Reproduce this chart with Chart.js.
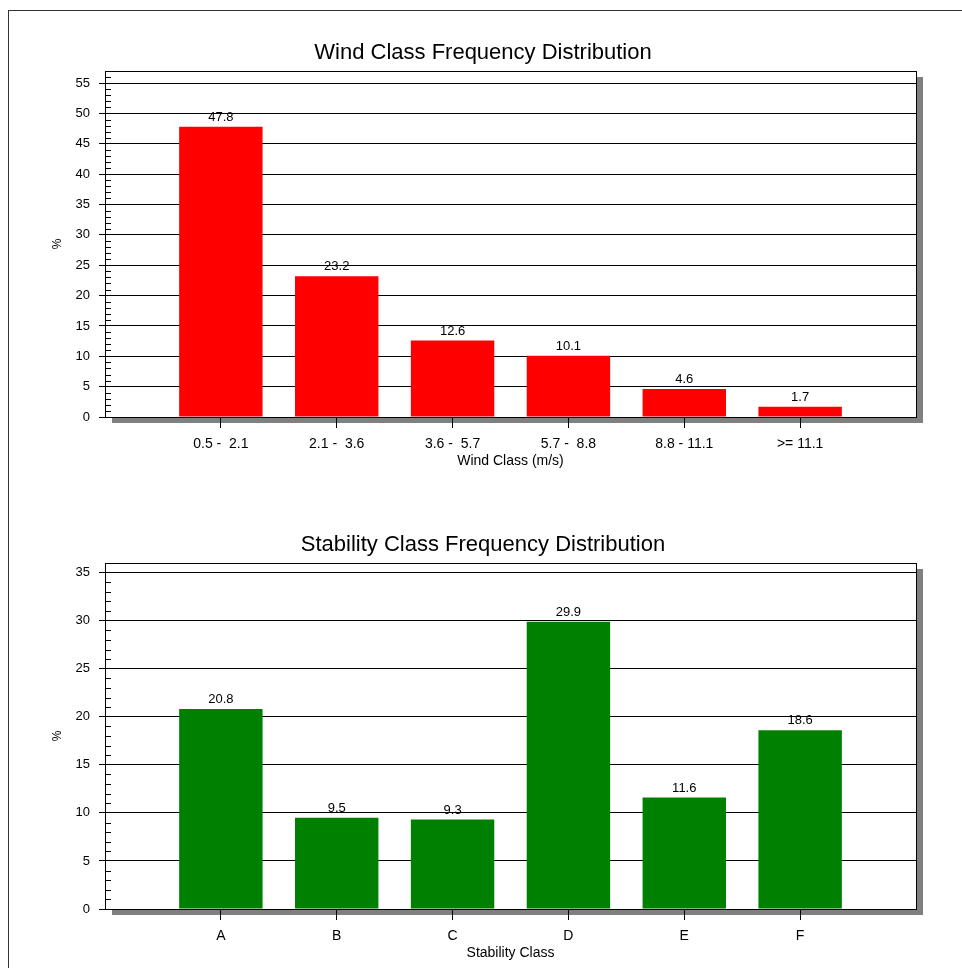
<!DOCTYPE html>
<html>
<head>
<meta charset="utf-8">
<script src="https://cdn.jsdelivr.net/npm/chart.js@4.4.1/dist/chart.umd.min.js"></script>
<style>
  body { margin: 0; background: #fff; }
  #frame { position: absolute; left: 8px; top: 10px; width: 960px; height: 964px;
           border-top: 1px solid #333; border-left: 1px solid #333; }
  canvas { position: absolute; left: 0; }
  #wind { top: 0; }
  #stab { top: 492px; }
</style>
</head>
<body>
<div id="frame"></div>
<canvas id="wind" width="962" height="476"></canvas>
<canvas id="stab" width="962" height="476"></canvas>
<script>
// Wind class chart
const windClasses = ['0.5 -  2.1', '2.1 -  3.6', '3.6 -  5.7', '5.7 -  8.8', '8.8 - 11.1', '>= 11.1'];
const windPct = [47.8, 23.2, 12.6, 10.1, 4.6, 1.7];
const windMax = 57;

// Stability class chart
const stabilityClasses = ['A', 'B', 'C', 'D', 'E', 'F'];
const stabilityPct = [20.8, 9.5, 9.3, 29.9, 11.6, 18.6];
const stabilityMax = 36;

const majorStep = 5;

Chart.defaults.font.family = "'Liberation Sans', Arial, sans-serif";
Chart.defaults.color = '#000';

// shadow, white plot area, minor ticks, plot border and value labels
const framePlugin = {
    id: 'frame',
    beforeDraw(chart) {
        const { ctx, chartArea: a } = chart;
        ctx.save();
        ctx.fillStyle = '#808080';
        ctx.fillRect(a.left + 7, a.top + 6, a.width, a.height);
        ctx.fillStyle = '#fff';
        ctx.fillRect(a.left, a.top, a.width, a.height);
        ctx.restore();
    },
    afterDatasetsDraw(chart) {
        const { ctx, chartArea: a } = chart;
        const y = chart.scales.y;
        ctx.save();
        ctx.strokeStyle = '#000';
        ctx.lineWidth = 1;
        ctx.beginPath();
        y.ticks.forEach(t => {
            if (t.value % majorStep !== 0) {
                const py = Math.round(y.getPixelForValue(t.value)) + 0.5;
                ctx.moveTo(a.left, py);
                ctx.lineTo(a.left + 6, py);
            }
        });
        ctx.stroke();
        ctx.strokeRect(Math.round(a.left) + 0.5, Math.round(a.top) + 0.5, Math.round(a.width), Math.round(a.height));

        ctx.fillStyle = '#000';
        ctx.font = "13px 'Liberation Sans', Arial, sans-serif";
        ctx.textAlign = 'center';
        ctx.textBaseline = 'bottom';
        const values = chart.data.datasets[0].data;
        chart.getDatasetMeta(0).data.forEach((bar, i) => {
            if (values[i] == null) return;
            ctx.fillText(values[i].toFixed(1), bar.x, bar.y - 3);
        });
        ctx.restore();
    }
};

function makeChart(id, title, xTitle, cats, values, color, yMax) {
    // empty slots at both ends give the full-slot gap seen in the picture
    const labels = ['', ...cats, ''];
    const n = labels.length;
    return new Chart(document.getElementById(id), {
        type: 'bar',
        data: {
            labels: labels,
            datasets: [{
                data: [null, ...values, null],
                backgroundColor: color,
                borderWidth: 0,
                categoryPercentage: 1,
                barPercentage: 0.72,
            }],
        },
        options: {
            responsive: false,
            animation: false,
            layout: { padding: { left: 50, right: 46, top: 0, bottom: 0 } },
            plugins: {
                legend: { display: false },
                tooltip: { enabled: false },
                title: {
                    display: true,
                    text: title,
                    color: '#000',
                    font: { size: 22, weight: 'normal' },
                    padding: { top: 40, bottom: 4.6 },
                },
            },
            scales: {
                x: {
                    offset: false,
                    grid: {
                        offset: false,
                        drawOnChartArea: false,
                        tickLength: 11,
                        tickColor: c => (c.index === 0 || c.index === n - 1) ? 'rgba(0,0,0,0)' : '#000',
                    },
                    border: { color: '#000' },
                    ticks: { color: '#000', font: { size: 14 }, padding: 8, autoSkip: false, maxRotation: 0 },
                    title: { display: true, text: xTitle, color: '#000', font: { size: 14 }, padding: { top: 0, bottom: 6 } },
                    afterFit: s => { s.height = 59; },
                },
                y: {
                    min: 0,
                    max: yMax,
                    grid: {
                        color: c => (c.tick && c.tick.value % majorStep === 0) ? '#000' : 'rgba(0,0,0,0)',
                        tickLength: 6,
                    },
                    border: { color: '#000' },
                    ticks: {
                        stepSize: 1,
                        autoSkip: false,
                        color: '#000',
                        font: { size: 13 },
                        padding: 9,
                        callback: v => (v % majorStep === 0 ? v : ''),
                    },
                    title: { display: true, text: '%', color: '#000', font: { size: 12 }, padding: 0 },
                    afterFit: s => { s.width = 55; },
                },
            },
        },
        plugins: [framePlugin],
    });
}

makeChart('wind', 'Wind Class Frequency Distribution', 'Wind Class (m/s)', windClasses, windPct, '#ff0000', windMax);
makeChart('stab', 'Stability Class Frequency Distribution', 'Stability Class', stabilityClasses, stabilityPct, '#008000', stabilityMax);
</script>
</body>
</html>
